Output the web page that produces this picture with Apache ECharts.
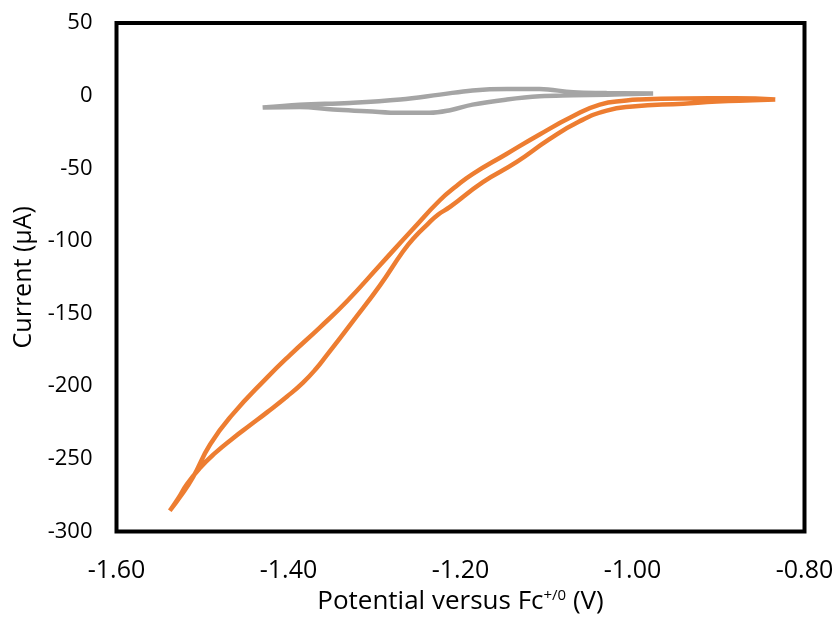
<!DOCTYPE html>
<html>
<head>
<meta charset="utf-8">
<script src="https://cdn.jsdelivr.net/npm/echarts@6/dist/echarts.min.js"></script>
<style>
html,body{margin:0;padding:0;background:#fff;}
#chart{width:840px;height:620px;}
</style>
</head>
<body>
<div id="chart"></div>
<script>
// Orange CV loop: right end -> upper/outer branch -> tip -> lower/inner branch -> right end
var orangeV = [-0.834, -0.88, -0.941, -0.992, -1.007, -1.038, -1.070, -1.108, -1.147, -1.186, -1.205, -1.224, -1.255, -1.294, -1.332, -1.363, -1.398, -1.425, -1.465, -1.491, -1.511, -1.526, -1.538,
               -1.5285, -1.518, -1.503, -1.4855, -1.4645, -1.4448, -1.425, -1.4017, -1.3831, -1.368, -1.3552, -1.325, -1.2936, -1.2669, -1.2529, -1.239, -1.2262, -1.2122, -1.174, -1.135, -1.097, -1.062, -1.030, -1.000, -0.941, -0.902, -0.86, -0.834];
var orangeI = [-2.7, -1.8, -2.0, -2.7, -3.4, -6.2, -14.4, -26.7, -40.3, -54.0, -62.4, -72.0, -91.6, -116.9, -141.5, -159.3, -178.4, -194.1, -219.4, -239.9, -262.5, -276.1, -285.7,
               -277.5, -267.3, -256.3, -246.1, -235.8, -226.9, -218.0, -207.1, -197.5, -188.0, -178.4, -155.2, -130.6, -107.3, -97.1, -88.9, -82.0, -76.6, -59.5, -45.8, -30.1, -17.8, -10.3, -7.5, -5.5, -4.1, -3.2, -2.7];
// Gray CV loop: right end -> lower branch -> tip -> upper branch -> right end
var grayV = [-0.976, -1.030, -1.069, -1.108, -1.146, -1.186, -1.212, -1.236, -1.270, -1.309, -1.348, -1.387, -1.430,
             -1.387, -1.329, -1.270, -1.224, -1.186, -1.146, -1.108, -1.069, -1.030, -0.976];
var grayI = [1.4, 0.7, 0.2, -0.5, -2.7, -6.2, -10.0, -11.8, -11.8, -10.7, -9.6, -7.8, -8.2,
             -6.2, -5.0, -2.7, 0.7, 3.6, 4.6, 4.6, 2.3, 1.8, 1.4];
var xTicks = [-1.6, -0.8, 0.2];   // min, max, interval
var yTicks = [-300, 50, 50];      // min, max, interval

function pairs(xs, ys) { return xs.map(function (v, i) { return [v, ys[i]]; }); }

var chart = echarts.init(document.getElementById('chart'), null, {renderer: 'canvas'});
var font = 'Open Sans';
chart.setOption({
  animation: false,
  backgroundColor: '#fff',
  grid: {left: 116.5, right: 35.5, top: 23, bottom: 85, show: true, borderColor: '#000', borderWidth: 4, backgroundColor: 'transparent'},
  xAxis: {
    type: 'value', min: xTicks[0], max: xTicks[1], interval: xTicks[2],
    axisLine: {show: false}, axisTick: {show: false}, splitLine: {show: false},
    axisLabel: {fontFamily: font, fontSize: 25, color: '#000', margin: 27, formatter: function (v) { return v.toFixed(2); }},
    name: '{a|Potential versus Fc}{s|+/0}{a| (V)}', nameLocation: 'middle', nameGap: 57,
    nameTextStyle: {rich: {a: {fontFamily: font, fontSize: 26, color: '#000'}, s: {fontFamily: font, fontSize: 15, color: '#000', verticalAlign: 'top', padding: [0, 0, 12, 0]}}}
  },
  yAxis: {
    type: 'value', min: yTicks[0], max: yTicks[1], interval: yTicks[2],
    axisLine: {show: false}, axisTick: {show: false}, splitLine: {show: false},
    axisLabel: {fontFamily: font, fontSize: 22, color: '#000', margin: 24},
    name: 'Current (µA)', nameLocation: 'middle', nameGap: 79,
    nameTextStyle: {fontFamily: font, fontSize: 25, color: '#000'}
  },
  series: [
    {type: 'line', data: pairs(grayV, grayI), showSymbol: false, smooth: 0.4, lineStyle: {color: '#A5A5A5', width: 4.5}, itemStyle: {color: '#A5A5A5'}},
    {type: 'line', data: pairs(orangeV, orangeI), showSymbol: false, smooth: 0.5, lineStyle: {color: '#ED7D31', width: 4.5}, itemStyle: {color: '#ED7D31'}}
  ]
});
</script>
</body>
</html>
